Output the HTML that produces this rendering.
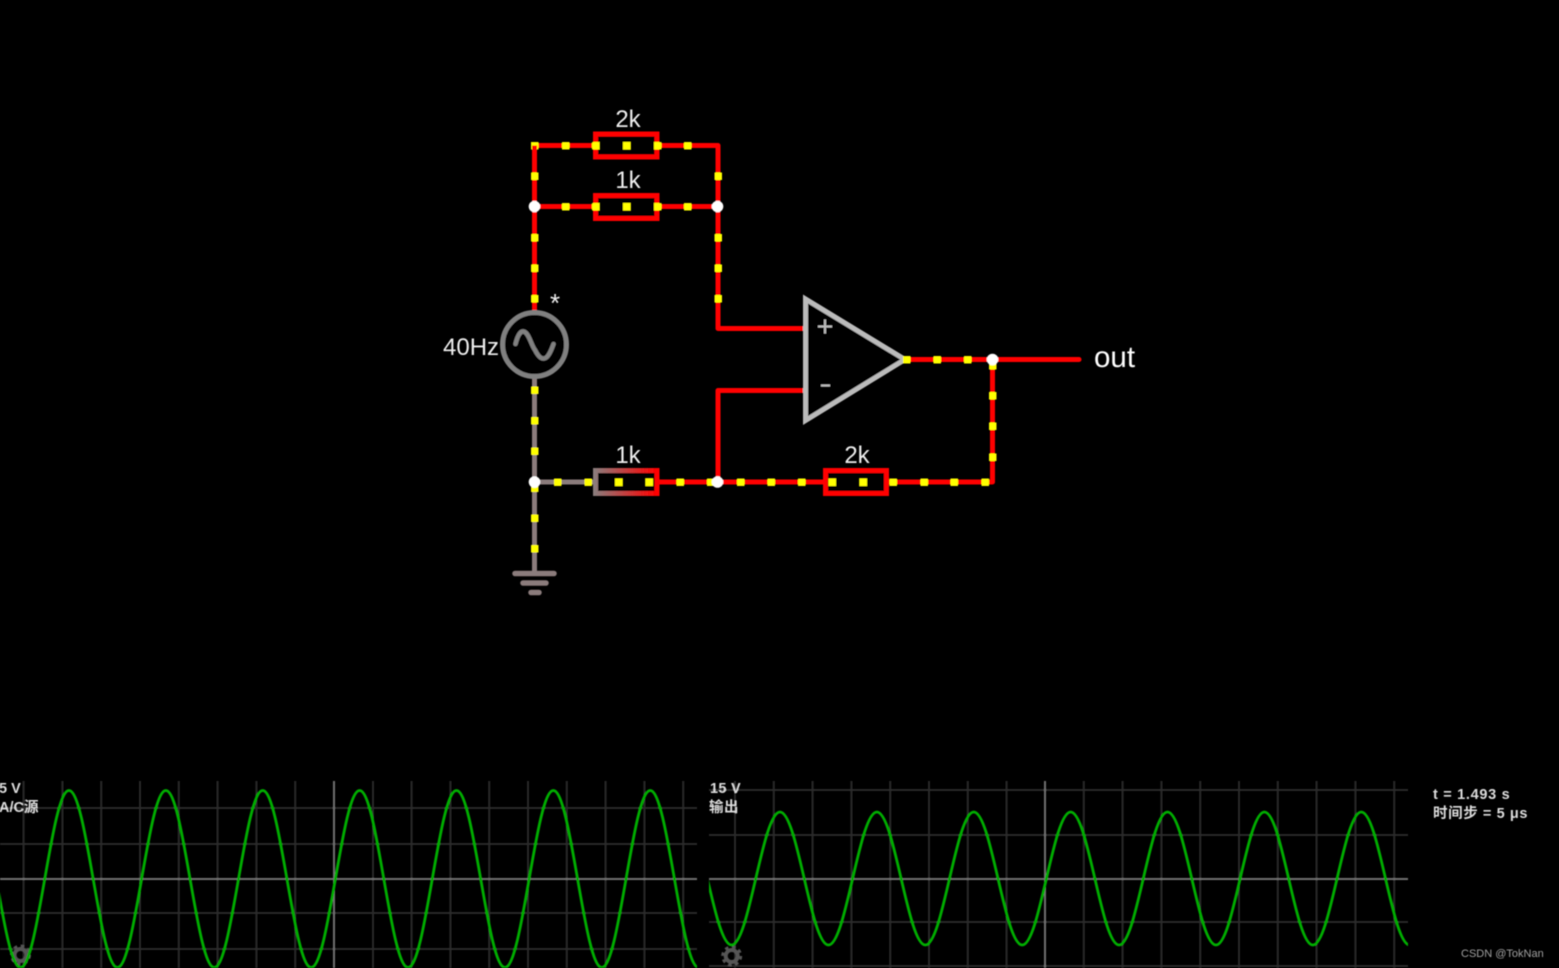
<!DOCTYPE html>
<html><head><meta charset="utf-8">
<style>
html,body{margin:0;padding:0;background:#000;width:1559px;height:968px;overflow:hidden}
svg{display:block}
text{font-family:"Liberation Sans","Noto Sans CJK SC",sans-serif}
</style></head><body>
<svg width="1559" height="968" viewBox="0 0 1559 968" xmlns="http://www.w3.org/2000/svg">
<defs>
<linearGradient id="g" gradientUnits="userSpaceOnUse" x1="595" y1="0" x2="657" y2="0"><stop offset="0" stop-color="#8b7b7b"/><stop offset="1" stop-color="#f00"/></linearGradient>
<clipPath id="c1"><rect x="0" y="781" width="697" height="187"/></clipPath>
<clipPath id="c2"><rect x="709" y="781" width="699" height="187"/></clipPath>
<filter id="b" x="-5%" y="-5%" width="110%" height="110%"><feGaussianBlur stdDeviation="0.4"/></filter>
</defs>
<rect width="1559" height="968" fill="#000"/>
<g filter="url(#b)">
<!-- left scope -->
<g stroke="#2b2b2b" stroke-width="2" fill="none">
<path d="M0 808H697M0 844H697M0 913H697M0 949H697"/>
<path d="M23.6 781V968M62.4 781V968M101.2 781V968M140 781V968M178.8 781V968M217.6 781V968M256.4 781V968M295.2 781V968M373 781V968M411.6 781V968M450.4 781V968M489.2 781V968M528 781V968M566.8 781V968M605.6 781V968M644.4 781V968M683.2 781V968"/>
</g>
<path d="M0 879H697M334 781V968" stroke="#707070" stroke-width="2" fill="none"/>
<!-- right scope -->
<g stroke="#2b2b2b" stroke-width="2" fill="none">
<path d="M709 790H1408M709 835H1408M709 922H1408M709 966H1408"/>
<path d="M735 781V968M773.8 781V968M812.6 781V968M851.4 781V968M890.2 781V968M929 781V968M967.8 781V968M1006.6 781V968M1083.8 781V968M1122.6 781V968M1161.4 781V968M1200.2 781V968M1239 781V968M1277.8 781V968M1316.6 781V968M1355.4 781V968M1394.2 781V968"/>
</g>
<path d="M709 879H1408M1045 781V968" stroke="#707070" stroke-width="2" fill="none"/>
<!-- gears -->
<g fill="none" stroke="#555">
<circle cx="20.5" cy="955" r="6" stroke-width="4"/>
<circle cx="20.5" cy="955" r="8.8" stroke-width="3.4" stroke-dasharray="3.4 3.5"/>
<circle cx="731.7" cy="956" r="6" stroke-width="4"/>
<circle cx="731.7" cy="956" r="8.8" stroke-width="3.4" stroke-dasharray="3.4 3.5"/>
</g>
<!-- waves -->
<path clip-path="url(#c1)" fill="none" stroke="#00ad00" stroke-width="2.8" d="M-3.7 879
c7.9 45.3 15.45 88.5 24.22 88.5c8.77 0 16.32 -43.2 24.22 -88.5c7.9 -45.3 15.45 -88.5 24.22 -88.5c8.77 0 16.32 43.2 24.22 88.5
c7.9 45.3 15.45 88.5 24.22 88.5c8.77 0 16.32 -43.2 24.22 -88.5c7.9 -45.3 15.45 -88.5 24.22 -88.5c8.77 0 16.32 43.2 24.22 88.5
c7.9 45.3 15.45 88.5 24.22 88.5c8.77 0 16.32 -43.2 24.22 -88.5c7.9 -45.3 15.45 -88.5 24.22 -88.5c8.77 0 16.32 43.2 24.22 88.5
c7.9 45.3 15.45 88.5 24.22 88.5c8.77 0 16.32 -43.2 24.22 -88.5c7.9 -45.3 15.45 -88.5 24.22 -88.5c8.77 0 16.32 43.2 24.22 88.5
c7.9 45.3 15.45 88.5 24.22 88.5c8.77 0 16.32 -43.2 24.22 -88.5c7.9 -45.3 15.45 -88.5 24.22 -88.5c8.77 0 16.32 43.2 24.22 88.5
c7.9 45.3 15.45 88.5 24.22 88.5c8.77 0 16.32 -43.2 24.22 -88.5c7.9 -45.3 15.45 -88.5 24.22 -88.5c8.77 0 16.32 43.2 24.22 88.5
c7.9 45.3 15.45 88.5 24.22 88.5c8.77 0 16.32 -43.2 24.22 -88.5c7.9 -45.3 15.45 -88.5 24.22 -88.5c8.77 0 16.32 43.2 24.22 88.5
c7.9 45.3 15.45 88.5 24.22 88.5"/>
<path clip-path="url(#c2)" fill="none" stroke="#00ad00" stroke-width="2.8" d="M707.34 878.5
c7.9 34.07 15.45 66.5 24.22 66.5c8.77 0 16.32 -32.43 24.22 -66.5c7.9 -34.07 15.45 -66.5 24.22 -66.5c8.77 0 16.32 32.43 24.22 66.5
c7.9 34.07 15.45 66.5 24.22 66.5c8.77 0 16.32 -32.43 24.22 -66.5c7.9 -34.07 15.45 -66.5 24.22 -66.5c8.77 0 16.32 32.43 24.22 66.5
c7.9 34.07 15.45 66.5 24.22 66.5c8.77 0 16.32 -32.43 24.22 -66.5c7.9 -34.07 15.45 -66.5 24.22 -66.5c8.77 0 16.32 32.43 24.22 66.5
c7.9 34.07 15.45 66.5 24.22 66.5c8.77 0 16.32 -32.43 24.22 -66.5c7.9 -34.07 15.45 -66.5 24.22 -66.5c8.77 0 16.32 32.43 24.22 66.5
c7.9 34.07 15.45 66.5 24.22 66.5c8.77 0 16.32 -32.43 24.22 -66.5c7.9 -34.07 15.45 -66.5 24.22 -66.5c8.77 0 16.32 32.43 24.22 66.5
c7.9 34.07 15.45 66.5 24.22 66.5c8.77 0 16.32 -32.43 24.22 -66.5c7.9 -34.07 15.45 -66.5 24.22 -66.5c8.77 0 16.32 32.43 24.22 66.5
c7.9 34.07 15.45 66.5 24.22 66.5c8.77 0 16.32 -32.43 24.22 -66.5c7.9 -34.07 15.45 -66.5 24.22 -66.5c8.77 0 16.32 32.43 24.22 66.5
c7.9 34.07 15.45 66.5 24.22 66.5"/>
<!-- scope text -->
<g fill="#ddd" font-size="14.5" font-weight="bold">
<text x="-1" y="793">5 V</text>
<text x="-1" y="812">A/C源</text>
<text x="710" y="793" letter-spacing=".3">15 V</text>
<text x="709" y="812" letter-spacing=".5">输出</text>
<text x="1433" y="799" letter-spacing=".7">t = 1.493 s</text>
<text x="1433" y="818" letter-spacing=".6">时间步 = 5 μs</text>
</g>
<text x="1461" y="957" font-size="11" fill="#a0a0a0">CSDN @TokNan</text>
<!-- wires: gray -->
<g fill="none" stroke="#8b7b7b" stroke-width="5">
<path d="M534.5 378V574M534.5 482H595"/>
</g>
<g fill="none" stroke="#8b7b7b" stroke-width="5.5" stroke-linecap="round">
<path d="M515 573.5H554M523 583H546M531 592.5H539"/>
</g>
<!-- wires: red -->
<g fill="none" stroke="#f00" stroke-width="5" stroke-linejoin="round" stroke-linecap="round">
<path d="M534.5 311V145.5H718V328.5H805"/>
<path d="M534.5 206.5H718"/>
<path d="M805 390.5H718V482"/>
<path d="M657 482H992.5V359.5"/>
<path d="M905 359.5H1079"/>
</g>
<!-- resistors -->
<g fill="#000" stroke="#f00" stroke-width="5">
<rect x="595.5" y="134" width="61.5" height="23"/>
<rect x="595.5" y="195.5" width="61.5" height="23"/>
<rect x="595.5" y="470.5" width="61.5" height="23" stroke="url(#g)"/>
<rect x="825.5" y="470.5" width="61" height="23"/>
</g>
<!-- source -->
<circle cx="534.5" cy="344.5" r="32" fill="#000" stroke="#808080" stroke-width="5"/>
<path d="M515.5 344C518 334 521 331 523.5 331.5C529 332.5 531 345 535 350C538 356 541 359 544 358.5C548 358 551 351 553.5 344" fill="none" stroke="#808080" stroke-width="4.5" stroke-linecap="round"/>
<!-- op amp -->
<path d="M805.5 299V420.5L905 359.5Z" fill="#000" stroke="#bbb" stroke-width="5"/>
<path d="M818 326.5H832M825 319.5V333.5" stroke="#bbb" stroke-width="2" fill="none"/>
<path d="M821 385.5H830" stroke="#bbb" stroke-width="2" fill="none"/>
<!-- current dots -->
<g fill="#ff0">
<rect x="531" y="142" width="7.5" height="7.5"/><rect x="562" y="142" width="7.5" height="7.5"/><rect x="592" y="142" width="7.5" height="7.5"/><rect x="623" y="142" width="7.5" height="7.5"/><rect x="654" y="142" width="7.5" height="7.5"/><rect x="684" y="142" width="7.5" height="7.5"/>
<rect x="562" y="203" width="7.5" height="7.5"/><rect x="592" y="203" width="7.5" height="7.5"/><rect x="623" y="203" width="7.5" height="7.5"/><rect x="654" y="203" width="7.5" height="7.5"/><rect x="684" y="203" width="7.5" height="7.5"/>
<rect x="531" y="172.5" width="7.5" height="7.5"/><rect x="531" y="234" width="7.5" height="7.5"/><rect x="531" y="264.5" width="7.5" height="7.5"/><rect x="531" y="295" width="7.5" height="7.5"/>
<rect x="714.5" y="172.5" width="7.5" height="7.5"/><rect x="714.5" y="234" width="7.5" height="7.5"/><rect x="714.5" y="264.5" width="7.5" height="7.5"/><rect x="714.5" y="295" width="7.5" height="7.5"/>
<rect x="531" y="386.5" width="7.5" height="7.5"/><rect x="531" y="417" width="7.5" height="7.5"/><rect x="531" y="447.5" width="7.5" height="7.5"/><rect x="531" y="484.5" width="7.5" height="7.5"/><rect x="531" y="514.5" width="7.5" height="7.5"/><rect x="531" y="545" width="7.5" height="7.5"/>
<rect x="554" y="478.5" width="7.5" height="7.5"/><rect x="584.5" y="478.5" width="7.5" height="7.5"/><rect x="615" y="478.5" width="7.5" height="7.5"/><rect x="645.5" y="478.5" width="7.5" height="7.5"/><rect x="676.5" y="478.5" width="7.5" height="7.5"/><rect x="707" y="478.5" width="7.5" height="7.5"/><rect x="737" y="478.5" width="7.5" height="7.5"/><rect x="767.5" y="478.5" width="7.5" height="7.5"/><rect x="798" y="478.5" width="7.5" height="7.5"/><rect x="828.5" y="478.5" width="7.5" height="7.5"/><rect x="859.5" y="478.5" width="7.5" height="7.5"/><rect x="889.5" y="478.5" width="7.5" height="7.5"/><rect x="920.5" y="478.5" width="7.5" height="7.5"/><rect x="950.5" y="478.5" width="7.5" height="7.5"/><rect x="981.5" y="478.5" width="7.5" height="7.5"/>
<rect x="989" y="362" width="7.5" height="7.5"/><rect x="989" y="392" width="7.5" height="7.5"/><rect x="989" y="422.5" width="7.5" height="7.5"/><rect x="989" y="453.5" width="7.5" height="7.5"/>
<rect x="903" y="356" width="7.5" height="7.5"/><rect x="933.5" y="356" width="7.5" height="7.5"/><rect x="964" y="356" width="7.5" height="7.5"/>
</g>
<path d="M534.5 145.5V150" stroke="#f00" stroke-width="5" fill="none"/>
<!-- junctions -->
<g fill="#fff">
<circle cx="534.5" cy="206.5" r="5.8"/><circle cx="717.5" cy="206.5" r="5.8"/><circle cx="534.5" cy="482" r="5.8"/><circle cx="717.5" cy="482" r="5.8"/><circle cx="992.5" cy="359.5" r="5.8"/>
</g>
<!-- labels -->
<g fill="#eee" font-size="24" text-anchor="middle">
<text x="628" y="127">2k</text>
<text x="628" y="188">1k</text>
<text x="628" y="463">1k</text>
<text x="857" y="463">2k</text>
</g>
<text x="443" y="355" font-size="24" fill="#eee">40Hz</text>
<text x="1094" y="367" font-size="29.5" fill="#fff">out</text>
<text x="555" y="312" font-size="26" fill="#eee" text-anchor="middle">*</text>
</g>
</svg>
</body></html>
